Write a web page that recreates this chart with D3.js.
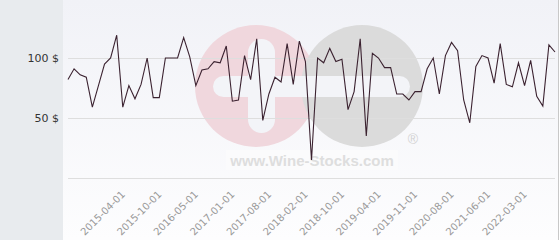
<!DOCTYPE html>
<html>
<head>
<meta charset="utf-8">
<script src="https://cdn.jsdelivr.net/npm/d3@7"></script>
<style>
  body { margin: 0; background: #fff; }
  svg { display: block; font-family: "DejaVu Sans", sans-serif; }
</style>
</head>
<body>
<svg id="chart" width="560" height="240"></svg>
<script>
// price per bottle, one point per sale
var prices = [82, 91, 86, 84, 59, 77, 95, 100, 119, 59,
              77, 66, 78, 100, 67, 67, 100, 100, 100, 117,
              101, 77, 90, 91, 97, 96, 110, 64, 65, 102,
              82, 116, 48, 70, 84, 80, 112, 78, 114, 97,
              15, 100, 96, 108, 97, 99, 57, 72, 116, 35,
              104, 100, 92, 92, 70, 70, 65, 72, 72, 91,
              100, 70, 102, 113, 106, 65, 46, 93, 102, 100,
              79, 112, 78, 76, 96, 77, 98, 68, 60, 111, 105]

// which points carry a date label
var tickIndex = [9, 15, 21, 27, 33, 39, 45, 51, 57, 63, 69, 75]
var tickLabels = ["2015-04-01", "2015-10-01", "2016-05-01", "2017-01-01",
                  "2017-08-01", "2018-02-01", "2018-10-01", "2019-04-01",
                  "2019-11-01", "2020-08-01", "2021-06-01", "2022-03-01"]
var yTicks = [0, 50, 100]

var width = 560
var height = 240
var plotLeft = 63
var x0 = 68, x1 = 555

var svg = d3.select("#chart")

// background panels
svg.append("rect").attr("x", 0).attr("y", 0).attr("width", plotLeft).attr("height", height)
    .attr("fill", "#e8ebee")

var grad = svg.append("defs").append("linearGradient")
    .attr("id", "bg").attr("x1", 0).attr("y1", 0).attr("x2", 0).attr("y2", 1)
grad.append("stop").attr("offset", "0%").attr("stop-color", "#f1f2f7")
grad.append("stop").attr("offset", "100%").attr("stop-color", "#fdfdfe")

svg.append("rect").attr("x", plotLeft).attr("y", 0).attr("width", width - plotLeft - 2).attr("height", height)
    .attr("fill", "url(#bg)")
svg.append("line").attr("x1", 558.5).attr("x2", 558.5).attr("y1", 0).attr("y2", height)
    .attr("stroke", "#c8c8c8")

// scales
var x = d3.scaleLinear().domain([0, prices.length - 1]).range([x0, x1])
var y = d3.scaleLinear().domain([0, 50]).range([178, 118])

// watermark logo
var logo = svg.append("g").attr("class", "watermark")
logo.append("circle").attr("cx", 256).attr("cy", 86).attr("r", 61).attr("fill", "#f0d7dd")
logo.append("circle").attr("cx", 362).attr("cy", 86).attr("r", 61).attr("fill", "#dbdbdb")
logo.append("rect").attr("x", 213).attr("y", 76).attr("width", 197).attr("height", 21).attr("rx", 10.5)
    .attr("fill", "#f3f4f8")
logo.append("rect").attr("x", 248).attr("y", 39).attr("width", 27).attr("height", 94).attr("rx", 13.5)
    .attr("fill", "#f3f4f8")
logo.append("rect").attr("x", 226).attr("y", 150).attr("width", 172).attr("height", 20)
    .attr("fill", "#fbfbfc")
logo.append("text").attr("x", 312).attr("y", 166).attr("text-anchor", "middle")
    .attr("font-size", 15).attr("font-weight", "bold").attr("fill", "#dedede")
    .attr("font-family", "Liberation Sans, Arial, sans-serif")
    .text("www.Wine-Stocks.com")
logo.append("text").attr("x", 413).attr("y", 144).attr("text-anchor", "middle")
    .attr("font-size", 14).attr("fill", "#d2d2d2")
    .attr("font-family", "Liberation Sans, Arial, sans-serif")
    .text("®")

// grid lines
svg.append("g").selectAll("line").data(yTicks).enter().append("line")
    .attr("x1", x0).attr("x2", x1)
    .attr("y1", (d) => y(d) + 0.5).attr("y2", (d) => y(d) + 0.5)
    .attr("stroke", "#dedede")

// y labels
svg.append("g").selectAll("text").data(yTicks.filter((d) => d > 0)).enter().append("text")
    .attr("x", 59).attr("y", (d) => y(d) + 4)
    .attr("text-anchor", "end").attr("font-size", 11).attr("fill", "#333")
    .text((d) => d + " $")

// x labels, rotated
svg.append("g").selectAll("text").data(tickIndex).enter().append("text")
    .attr("transform", (d) => "translate(" + (x(d) + 3) + ",195) rotate(-45)")
    .attr("text-anchor", "end").attr("font-size", 10).attr("fill", "#999")
    .text((d, i) => tickLabels[i])

// the price line
var line = d3.line().x((d, i) => x(i)).y((d) => y(d))
svg.append("path").datum(prices)
    .attr("d", line)
    .attr("fill", "none")
    .attr("stroke", "#3b2230")
    .attr("stroke-width", 1.1)
    .attr("stroke-linejoin", "miter")
</script>
</body>
</html>
